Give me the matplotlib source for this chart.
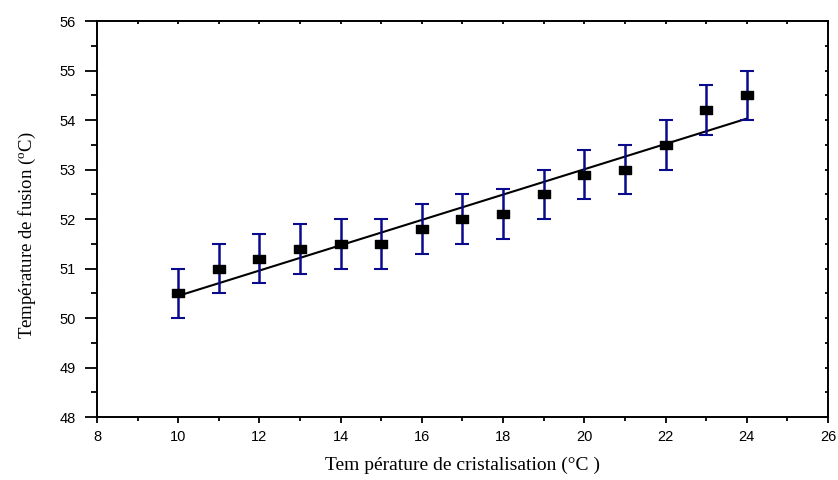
import numpy as np
import matplotlib
matplotlib.use("Agg")
import matplotlib.pyplot as plt
from matplotlib.path import Path
from matplotlib.ticker import MultipleLocator

plt.rcParams['mathtext.fontset'] = 'custom'
plt.rcParams['mathtext.rm'] = 'Liberation Serif'
plt.rcParams['mathtext.it'] = 'Liberation Serif:italic'

# Data
x_cryst = [10, 11, 12, 13, 14, 15, 16, 17, 18, 19, 20, 21, 22, 23, 24]
y_fusion = [50.5, 51.0, 51.2, 51.4, 51.5, 51.5, 51.8, 52.0, 52.1, 52.5, 52.9, 53.0, 53.5, 54.2, 54.5]
y_err = [0.5] * 15

x_ticks = [8, 10, 12, 14, 16, 18, 20, 22, 24, 26]
y_ticks = [48, 49, 50, 51, 52, 53, 54, 55, 56]

fig = plt.figure(figsize=(8.38, 4.8), dpi=100)
ax = fig.add_axes([0.1158, 0.131, 0.8722, 0.825])

rect = Path([(-1, -0.65), (1, -0.65), (1, 0.65), (-1, 0.65), (-1, -0.65)],
            [Path.MOVETO, Path.LINETO, Path.LINETO, Path.LINETO, Path.CLOSEPOLY])

# Linear fit
coef = np.polyfit(x_cryst, y_fusion, 1)
xf = np.array([x_cryst[0], x_cryst[-1]])
ax.plot(xf, np.polyval(coef, xf), color='black', lw=1.5, zorder=2)

ax.errorbar(x_cryst, y_fusion, yerr=y_err, fmt='none', ecolor='#0a0a8c',
            elinewidth=1.8, capsize=4.8, capthick=1.5, zorder=3)
ax.plot(x_cryst, y_fusion, linestyle='none', marker=rect, markersize=8,
        color='black', zorder=4)

ax.set_xlim(8, 26)
ax.set_ylim(48, 56)
ax.set_xticks(x_ticks)
ax.set_yticks(y_ticks)
ax.xaxis.set_minor_locator(MultipleLocator(1))
ax.yaxis.set_minor_locator(MultipleLocator(0.5))

for s in ax.spines.values():
    s.set_linewidth(1.4)

ax.tick_params(axis='y', which='major', direction='out', length=8.5, width=1.3,
               labelsize=10.5, pad=7, right=True)
ax.tick_params(axis='y', which='minor', direction='out', length=4.5, width=1.3, right=True)
ax.tick_params(axis='x', which='major', direction='out', length=4.5, width=1.3,
               labelsize=10.5, pad=5, top=True)
ax.tick_params(axis='x', which='minor', direction='out', length=3, width=1.3, top=True)
# top/right ticks inward short
for t in ax.xaxis.get_major_ticks() + ax.xaxis.get_minor_ticks():
    t.tick2line.set_markersize(2)
    t.tick2line.set_marker(3)
for t in ax.yaxis.get_major_ticks() + ax.yaxis.get_minor_ticks():
    t.tick2line.set_markersize(2)
    t.tick2line.set_marker(0)

for lab in ax.get_xticklabels() + ax.get_yticklabels():
    lab.set_fontfamily('Liberation Sans')

ax.set_xlabel('Tem pérature de cristalisation (°C )', family='Liberation Serif',
              fontsize=14, labelpad=9)
ax.set_ylabel('Température de fusion ($^{\\rm o}$C)', family='Liberation Serif',
              fontsize=13.5)
ax.yaxis.set_label_coords(-0.081, 0.46)

fig.savefig('out.png', dpi=100)
